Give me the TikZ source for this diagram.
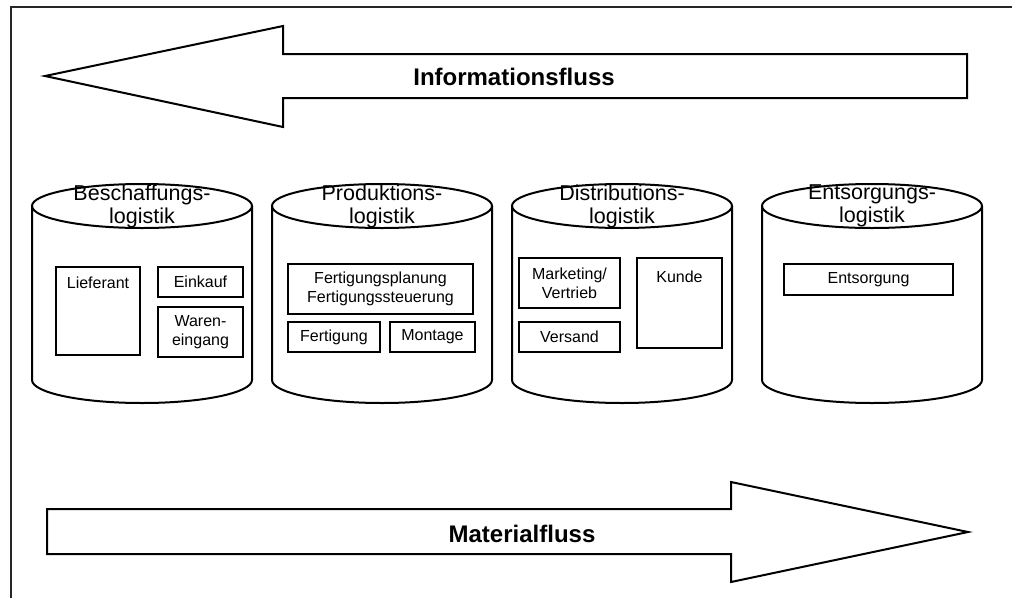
\documentclass[tikz,border=0pt]{standalone}
\usepackage{fontspec}
\setmainfont{Liberation Sans}
\usetikzlibrary{positioning}
\usetikzlibrary{calc}

\begin{document}
\begin{tikzpicture}[x=1pt,y=-1pt]
  \tikzset{node distance=8pt,
           outline/.style={draw=black,line width=2pt,line join=miter},
           itembox/.style 2 args={outline,inner sep=0pt,minimum width=#1pt,minimum height=#2pt,
                                  align=center,font=\fontsize{16}{19}\selectfont},
           drumtitle/.style={inner sep=0pt,align=center,font=\fontsize{21.5}{23}\selectfont},
           flowlabel/.style={inner sep=0pt,font=\fontsize{24}{28}\selectfont\bfseries},
           frameline/.style={draw=black!85,line width=1.8pt}}
  \useasboundingbox (0,0) rectangle (1012,598);
  \draw[frameline] (11,598) -- (11,7) -- (1012,7);

  \draw[outline] (45,76) -- (283,26) -- (283,54) -- (967,54) -- (967,98) -- (283,98) -- (283,127) -- cycle;
  \node[flowlabel] (infofluss) at (514,77) {Informationsfluss};

  \foreach \cx in {142,382,622,872} {
    \draw[outline] (\cx-110,206) -- (\cx-110,380) arc[start angle=180,end angle=0,x radius=110,y radius=23] -- (\cx+110,206);
    \draw[outline] (\cx,206) ellipse[x radius=110,y radius=22];
  }
  \node[drumtitle] (beschlog) at (142,206) {Beschaffungs-\\logistik};
  \node[drumtitle] (prodlog) at (382,206) {Produktions-\\logistik};
  \node[drumtitle] (distlog) at (622,206) {Distributions-\\logistik};
  \node[drumtitle] (entslog) at (872,206) {Entsorgungs-\\logistik};

  \node[itembox={84}{88},text height=21pt,text depth=67pt,anchor=north west] (lieferant) at (55,266) {Lieferant};
  \node[itembox={85}{30},below right=0pt and 16pt of lieferant.north east] (einkauf) {Einkauf};
  \node[itembox={85}{50},below=8pt of einkauf] (wareneingang) {Waren-\\eingang};

  \node[itembox={185}{50},anchor=north west] (planung) at (287,263) {Fertigungsplanung\\Fertigungssteuerung};
  \node[itembox={92}{30},below right=6pt and 0pt of planung.south west] (fertigung) {Fertigung};
  \node[itembox={85}{30},right=8pt of fertigung] (montage) {Montage};

  \node[itembox={101}{50},anchor=north west] (marketing) at (518,257) {Marketing/\\Vertrieb};
  \node[itembox={101}{30},below=12pt of marketing] (versand) {Versand};
  \node[itembox={85}{90},text height=24pt,text depth=66pt,below right=0pt and 15pt of marketing.north east] (kunde) {Kunde};

  \node[itembox={169}{31},anchor=north west] (entsorgung) at (783,263) {Entsorgung};

  \draw[outline] (47,509) -- (731,509) -- (731,482) -- (968,532) -- (731,582) -- (731,554) -- (47,554) -- cycle;
  \node[flowlabel] (materialfluss) at (522,534) {Materialfluss};
\end{tikzpicture}
\end{document}
